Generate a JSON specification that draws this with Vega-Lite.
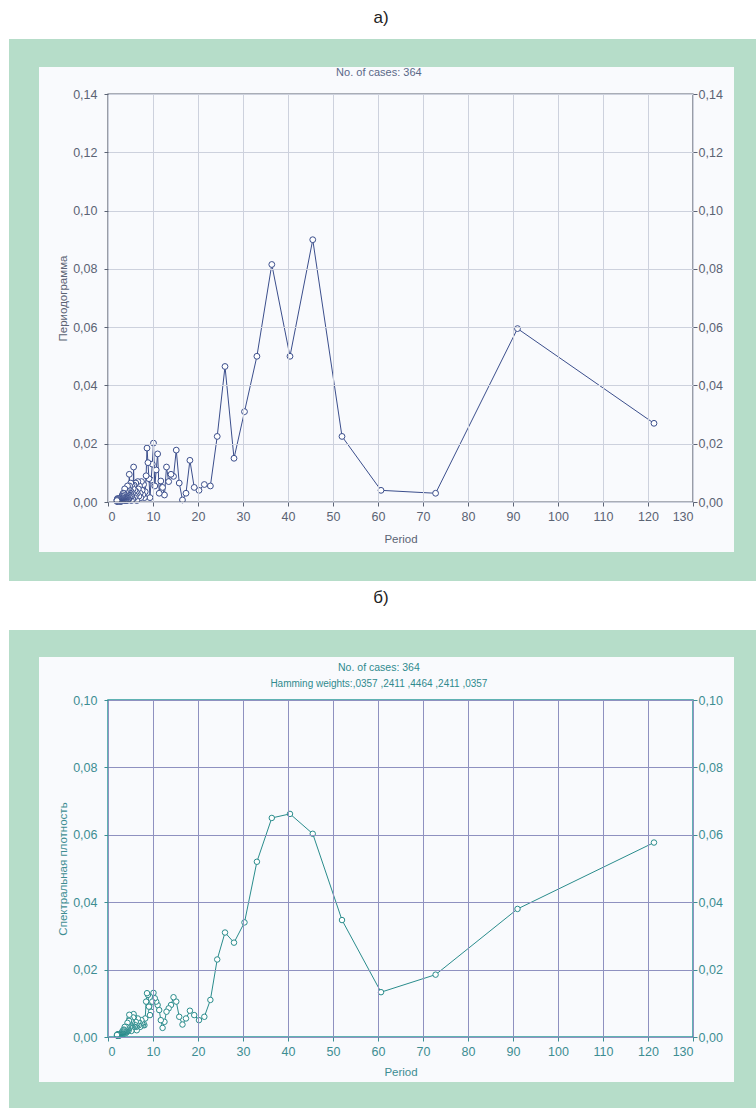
{
"$schema": "https://vega.github.io/schema/vega-lite/v6.json",
"padding": 0,
"autosize": {"type": "pad"},
"background": "white",
"bounds": "flush",
"spacing": 198,
"config": {
  "locale": {"number": {"decimal": ",", "thousands": " ", "grouping": [3], "currency": ["", ""]}},
  "font": "Liberation Sans",
  "view": {"stroke": null},
  "axis": {"zindex": 1, "domain": false, "tickSize": 4, "labelFontSize": 12.5, "titleFontSize": 11.5, "titleFontWeight": "normal", "labelFont": "Liberation Sans", "titleFont": "Liberation Sans", "gridWidth": 1}
},
"datasets": {
"pg": [
{"p":121.33,"v":0.027},{"p":91,"v":0.0595},{"p":72.8,"v":0.003},{"p":60.67,"v":0.004},{"p":52,"v":0.0225},{"p":45.5,"v":0.09},{"p":40.44,"v":0.05},{"p":36.4,"v":0.0815},{"p":33.09,"v":0.05},{"p":30.33,"v":0.031},{"p":28,"v":0.015},{"p":26,"v":0.0465},{"p":24.27,"v":0.0225},{"p":22.75,"v":0.0055},{"p":21.41,"v":0.006},{"p":20.22,"v":0.004},{"p":19.16,"v":0.005},{"p":18.2,"v":0.0143},{"p":17.33,"v":0.003},{"p":16.55,"v":0.0007},{"p":15.83,"v":0.0065},{"p":15.17,"v":0.0178},{"p":14.56,"v":0.0088},{"p":14,"v":0.0095},{"p":13.48,"v":0.007},{"p":13,"v":0.012},{"p":12.55,"v":0.0024},{"p":12.13,"v":0.005},{"p":11.74,"v":0.0072},{"p":11.38,"v":0.003},{"p":11.03,"v":0.0165},{"p":10.71,"v":0.011},{"p":10.4,"v":0.0055},{"p":10.11,"v":0.0202},{"p":9.84,"v":0.013},{"p":9.58,"v":0.0075},{"p":9.33,"v":0.0015},{"p":9.1,"v":0.008},{"p":8.88,"v":0.0135},{"p":8.67,"v":0.0185},{"p":8.47,"v":0.009},{"p":8.27,"v":0.0035},{"p":8.09,"v":0.0015},{"p":7.91,"v":0.006},{"p":7.74,"v":0.0025},{"p":7.58,"v":0.004},{"p":7.43,"v":0.007},{"p":7.28,"v":0.0015},{"p":7.14,"v":0.003},{"p":7,"v":0.0055},{"p":6.87,"v":0.002},{"p":6.74,"v":0.0045},{"p":6.62,"v":0.007},{"p":6.5,"v":0.003},{"p":6.39,"v":0.0005},{"p":6.28,"v":0.0035},{"p":6.17,"v":0.0065},{"p":6.07,"v":0.002},{"p":5.97,"v":0.004},{"p":5.87,"v":0.0015},{"p":5.78,"v":0.0058},{"p":5.69,"v":0.012},{"p":5.6,"v":0.0045},{"p":5.52,"v":0.001},{"p":5.43,"v":0.003},{"p":5.35,"v":0.006},{"p":5.28,"v":0.002},{"p":5.2,"v":0.0005},{"p":5.13,"v":0.0035},{"p":5.06,"v":0.0065},{"p":4.99,"v":0.002},{"p":4.92,"v":0.004},{"p":4.85,"v":0.0015},{"p":4.79,"v":0.0055},{"p":4.73,"v":0.0095},{"p":4.67,"v":0.0035},{"p":4.61,"v":0.001},{"p":4.55,"v":0.0025},{"p":4.49,"v":0.0045},{"p":4.44,"v":0.001},{"p":4.39,"v":0.003},{"p":4.33,"v":0.0055},{"p":4.28,"v":0.002},{"p":4.23,"v":0.0005},{"p":4.18,"v":0.003},{"p":4.14,"v":0.0015},{"p":4.09,"v":0.004},{"p":4.04,"v":0.002},{"p":4,"v":0.0005},{"p":3.96,"v":0.0025},{"p":3.91,"v":0.001},{"p":3.87,"v":0.0035},{"p":3.83,"v":0.0015},{"p":3.79,"v":0.0005},{"p":3.75,"v":0.002},{"p":3.71,"v":0.0045},{"p":3.68,"v":0.001},{"p":3.64,"v":0.0025},{"p":3.6,"v":0.0005},{"p":3.57,"v":0.0015},{"p":3.53,"v":0.003},{"p":3.5,"v":0.001},{"p":3.47,"v":0.002},{"p":3.43,"v":0.0005},{"p":3.4,"v":0.0015},{"p":3.37,"v":0.003},{"p":3.34,"v":0.001},{"p":3.31,"v":0.0005},{"p":3.28,"v":0.002},{"p":3.25,"v":0.001},{"p":3.22,"v":0.0025},{"p":3.19,"v":0.0005},{"p":3.17,"v":0.0015},{"p":3.14,"v":0.001},{"p":3.11,"v":0.002},{"p":3.08,"v":0.0005},{"p":3.06,"v":0.001},{"p":3.03,"v":0.0015},{"p":3.01,"v":0.0005},{"p":2.98,"v":0.001},{"p":2.96,"v":0.0003},{"p":2.94,"v":0.0015},{"p":2.91,"v":0.0005},{"p":2.89,"v":0.0008},{"p":2.87,"v":0.0002},{"p":2.84,"v":0.0012},{"p":2.82,"v":0.0004},{"p":2.8,"v":0.0007},{"p":2.78,"v":0.0013},{"p":2.76,"v":0.0003},{"p":2.74,"v":0.0006},{"p":2.72,"v":0.001},{"p":2.7,"v":0.0002},{"p":2.68,"v":0.0009},{"p":2.66,"v":0.0005},{"p":2.64,"v":0.0011},{"p":2.62,"v":0.0003},{"p":2.6,"v":0.0006},{"p":2.58,"v":0.0002},{"p":2.56,"v":0.0009},{"p":2.55,"v":0.0004},{"p":2.53,"v":0.0012},{"p":2.51,"v":0.0003},{"p":2.49,"v":0.0007},{"p":2.48,"v":0.0002},{"p":2.46,"v":0.0005},{"p":2.44,"v":0.001},{"p":2.43,"v":0.0003},{"p":2.41,"v":0.0006},{"p":2.39,"v":0.0002},{"p":2.38,"v":0.0008},{"p":2.36,"v":0.0004},{"p":2.35,"v":0.0011},{"p":2.33,"v":0.0002},{"p":2.32,"v":0.0005},{"p":2.3,"v":0.0007},{"p":2.29,"v":0.0003},{"p":2.28,"v":0.0009},{"p":2.26,"v":0.0002},{"p":2.25,"v":0.0006},{"p":2.23,"v":0.0004},{"p":2.22,"v":0.001},{"p":2.21,"v":0.0003},{"p":2.19,"v":0.0005},{"p":2.18,"v":0.0002},{"p":2.17,"v":0.0008},{"p":2.15,"v":0.0004},{"p":2.14,"v":0.0006},{"p":2.13,"v":0.0012},{"p":2.12,"v":0.0003},{"p":2.1,"v":0.0005},{"p":2.09,"v":0.0002},{"p":2.08,"v":0.0007},{"p":2.07,"v":0.0004},{"p":2.06,"v":0.0009},{"p":2.05,"v":0.0003},{"p":2.03,"v":0.0006},{"p":2.02,"v":0.0002},{"p":2.01,"v":0.0008},{"p":2,"v":0.0005}
],
"sd": [
{"p":121.33,"v":0.0577},{"p":91,"v":0.038},{"p":72.8,"v":0.0185},{"p":60.67,"v":0.0133},{"p":52,"v":0.0347},{"p":45.5,"v":0.0603},{"p":40.44,"v":0.0662},{"p":36.4,"v":0.065},{"p":33.09,"v":0.052},{"p":30.33,"v":0.034},{"p":28,"v":0.028},{"p":26,"v":0.031},{"p":24.27,"v":0.023},{"p":22.75,"v":0.011},{"p":21.41,"v":0.006},{"p":20.22,"v":0.005},{"p":19.16,"v":0.0065},{"p":18.2,"v":0.0078},{"p":17.33,"v":0.0055},{"p":16.55,"v":0.0037},{"p":15.83,"v":0.006},{"p":15.17,"v":0.0105},{"p":14.56,"v":0.0118},{"p":14,"v":0.0095},{"p":13.48,"v":0.0085},{"p":13,"v":0.0075},{"p":12.55,"v":0.0045},{"p":12.13,"v":0.0027},{"p":11.74,"v":0.005},{"p":11.38,"v":0.008},{"p":11.03,"v":0.0095},{"p":10.71,"v":0.0105},{"p":10.4,"v":0.0115},{"p":10.11,"v":0.0131},{"p":9.84,"v":0.0105},{"p":9.58,"v":0.0075},{"p":9.33,"v":0.0065},{"p":9.1,"v":0.009},{"p":8.88,"v":0.0125},{"p":8.67,"v":0.013},{"p":8.47,"v":0.0105},{"p":8.27,"v":0.0055},{"p":8.09,"v":0.0035},{"p":7.91,"v":0.004},{"p":7.74,"v":0.0035},{"p":7.58,"v":0.004},{"p":7.43,"v":0.005},{"p":7.28,"v":0.0035},{"p":7.14,"v":0.003},{"p":7,"v":0.0042},{"p":6.87,"v":0.0035},{"p":6.74,"v":0.0045},{"p":6.62,"v":0.0055},{"p":6.5,"v":0.0035},{"p":6.39,"v":0.002},{"p":6.28,"v":0.003},{"p":6.17,"v":0.0045},{"p":6.07,"v":0.0035},{"p":5.97,"v":0.003},{"p":5.87,"v":0.003},{"p":5.78,"v":0.006},{"p":5.69,"v":0.0068},{"p":5.6,"v":0.0058},{"p":5.52,"v":0.0028},{"p":5.43,"v":0.003},{"p":5.35,"v":0.0045},{"p":5.28,"v":0.0028},{"p":5.2,"v":0.0018},{"p":5.13,"v":0.0032},{"p":5.06,"v":0.0048},{"p":4.99,"v":0.0035},{"p":4.92,"v":0.0032},{"p":4.85,"v":0.0028},{"p":4.79,"v":0.0055},{"p":4.73,"v":0.0066},{"p":4.67,"v":0.0048},{"p":4.61,"v":0.002},{"p":4.55,"v":0.0025},{"p":4.49,"v":0.0035},{"p":4.44,"v":0.0022},{"p":4.39,"v":0.003},{"p":4.33,"v":0.0042},{"p":4.28,"v":0.0025},{"p":4.23,"v":0.0015},{"p":4.18,"v":0.0022},{"p":4.14,"v":0.002},{"p":4.09,"v":0.003},{"p":4.04,"v":0.002},{"p":4,"v":0.0012},{"p":3.96,"v":0.0018},{"p":3.91,"v":0.0017},{"p":3.87,"v":0.0025},{"p":3.83,"v":0.0017},{"p":3.79,"v":0.0012},{"p":3.75,"v":0.002},{"p":3.71,"v":0.003},{"p":3.68,"v":0.0018},{"p":3.64,"v":0.0018},{"p":3.6,"v":0.001},{"p":3.57,"v":0.0015},{"p":3.53,"v":0.0022},{"p":3.5,"v":0.0015},{"p":3.47,"v":0.0015},{"p":3.43,"v":0.001},{"p":3.4,"v":0.0014},{"p":3.37,"v":0.002},{"p":3.34,"v":0.0012},{"p":3.31,"v":0.0009},{"p":3.28,"v":0.0014},{"p":3.25,"v":0.0013},{"p":3.22,"v":0.0017},{"p":3.19,"v":0.001},{"p":3.17,"v":0.0012},{"p":3.14,"v":0.0012},{"p":3.11,"v":0.0014},{"p":3.08,"v":0.0008},{"p":3.06,"v":0.001},{"p":3.03,"v":0.0011},{"p":3.01,"v":0.0008},{"p":2.98,"v":0.0009},{"p":2.96,"v":0.0008},{"p":2.94,"v":0.0009},{"p":2.91,"v":0.0008},{"p":2.89,"v":0.0007},{"p":2.87,"v":0.0007},{"p":2.84,"v":0.0008},{"p":2.82,"v":0.0007},{"p":2.8,"v":0.0008},{"p":2.78,"v":0.0008},{"p":2.76,"v":0.0007},{"p":2.74,"v":0.0007},{"p":2.72,"v":0.0007},{"p":2.7,"v":0.0006},{"p":2.68,"v":0.0007},{"p":2.66,"v":0.0007},{"p":2.64,"v":0.0008},{"p":2.62,"v":0.0006},{"p":2.6,"v":0.0005},{"p":2.58,"v":0.0005},{"p":2.56,"v":0.0007},{"p":2.55,"v":0.0007},{"p":2.53,"v":0.0008},{"p":2.51,"v":0.0006},{"p":2.49,"v":0.0005},{"p":2.48,"v":0.0004},{"p":2.46,"v":0.0006},{"p":2.44,"v":0.0007},{"p":2.43,"v":0.0006},{"p":2.41,"v":0.0005},{"p":2.39,"v":0.0005},{"p":2.38,"v":0.0006},{"p":2.36,"v":0.0007},{"p":2.35,"v":0.0007},{"p":2.33,"v":0.0005},{"p":2.32,"v":0.0005},{"p":2.3,"v":0.0006},{"p":2.29,"v":0.0006},{"p":2.28,"v":0.0006},{"p":2.26,"v":0.0005},{"p":2.25,"v":0.0005},{"p":2.23,"v":0.0006},{"p":2.22,"v":0.0007},{"p":2.21,"v":0.0005},{"p":2.19,"v":0.0004},{"p":2.18,"v":0.0005},{"p":2.17,"v":0.0006},{"p":2.15,"v":0.0006},{"p":2.14,"v":0.0007},{"p":2.13,"v":0.0008},{"p":2.12,"v":0.0006},{"p":2.1,"v":0.0004},{"p":2.09,"v":0.0005},{"p":2.08,"v":0.0006},{"p":2.07,"v":0.0006},{"p":2.06,"v":0.0006},{"p":2.05,"v":0.0005},{"p":2.03,"v":0.0005},{"p":2.02,"v":0.0005},{"p":2.01,"v":0.0006},{"p":2,"v":0.0006}
]
},
"vconcat": [
{
  "width": 585, "height": 408,
  "resolve": {"axis": {"x": "independent", "y": "independent"}},
  "layer": [
    {"data": {"values": [{}]}, "mark": {"type": "rect", "fill": "white", "clip": false},
     "encoding": {"x": {"datum": -23.78, "type": "quantitative", "axis": null}, "x2": {"datum": 144.22}, "y": {"datum": 0.17225, "type": "quantitative", "axis": null}, "y2": {"datum": -0.02711}}},
    {"data": {"values": [{}]}, "mark": {"type": "rect", "fill": "#b6ddc9", "clip": false},
     "encoding": {"x": {"datum": -22, "type": "quantitative", "axis": null}, "x2": {"datum": 144.22}, "y": {"datum": 0.15887, "type": "quantitative", "axis": null}, "y2": {"datum": -0.02711}}},
    {"data": {"values": [{}]}, "mark": {"type": "rect", "fill": "#f9fafd", "clip": false},
     "encoding": {"x": {"datum": -15.33, "type": "quantitative", "axis": null}, "x2": {"datum": 139.11}, "y": {"datum": 0.14927, "type": "quantitative", "axis": null}, "y2": {"datum": -0.01716}}},
    {"data": {"values": [{}]}, "mark": {"type": "text", "text": "а)", "fontSize": 17, "color": "#222222", "font": "Liberation Sans", "clip": false},
     "encoding": {"x": {"datum": 60.67, "type": "quantitative", "axis": null}, "y": {"datum": 0.1661, "type": "quantitative", "axis": null}}},
    {"data": {"values": [{}]}, "mark": {"type": "text", "text": "No. of cases: 364", "fontSize": 11, "color": "#5a6888", "font": "Liberation Sans", "clip": false},
     "encoding": {"x": {"datum": 60.2, "type": "quantitative", "axis": null}, "y": {"datum": 0.1472, "type": "quantitative", "axis": null}}},
    {"data": {"name": "pg"}, "mark": {"type": "line", "color": "#3b4e8c", "strokeWidth": 1},
     "encoding": {
       "x": {"field": "p", "type": "quantitative", "scale": {"domain": [0, 130], "nice": false, "zero": false},
             "axis": {"zindex": 1, "values": [0,10,20,30,40,50,60,70,80,90,100,110,120,130], "format": "d", "title": "Period", "grid": true, "gridColor": "#cdd1dd", "labelColor": "#5b6374", "titleColor": "#5b6374", "tickColor": "#5b6374", "labelPadding": 4, "titlePadding": 11}},
       "y": {"field": "v", "type": "quantitative", "scale": {"domain": [0, 0.14], "nice": false, "zero": false},
             "axis": {"zindex": 1, "orient": "left", "values": [0,0.02,0.04,0.06,0.08,0.1,0.12,0.14], "format": ".2f", "title": "Периодограмма", "grid": true, "gridColor": "#cdd1dd", "labelColor": "#5b6374", "titleColor": "#5b6374", "tickColor": "#5b6374", "labelPadding": 7, "titlePadding": 4}}
     }},
    {"data": {"name": "pg"}, "mark": {"type": "point", "shape": "circle", "filled": false, "fill": "#ffffff", "stroke": "#3b4e8c", "strokeWidth": 1, "size": 34, "opacity": 1},
     "encoding": {
       "x": {"field": "p", "type": "quantitative", "axis": null},
       "y": {"field": "v", "type": "quantitative",
             "axis": {"zindex": 1, "orient": "right", "values": [0,0.02,0.04,0.06,0.08,0.1,0.12,0.14], "format": ".2f", "title": null, "grid": false, "labelColor": "#5b6374", "tickColor": "#5b6374", "labelPadding": 1}}
     }},
    {"data": {"values": [{}]}, "mark": {"type": "rect", "fill": "transparent", "stroke": "#5a6070", "strokeWidth": 1.2, "clip": false},
     "encoding": {"x": {"datum": 0, "type": "quantitative", "axis": null}, "x2": {"datum": 130}, "y": {"datum": 0, "type": "quantitative", "axis": null}, "y2": {"datum": 0.14}}}
  ]
},
{
  "width": 585, "height": 337,
  "resolve": {"axis": {"x": "independent", "y": "independent"}},
  "layer": [
    {"data": {"values": [{}]}, "mark": {"type": "rect", "fill": "#b6ddc9", "clip": false},
     "encoding": {"x": {"datum": -22, "type": "quantitative", "axis": null}, "x2": {"datum": 144.22}, "y": {"datum": 0.12077, "type": "quantitative", "axis": null}, "y2": {"datum": -0.02107}}},
    {"data": {"values": [{}]}, "mark": {"type": "rect", "fill": "#f9fafd", "clip": false},
     "encoding": {"x": {"datum": -15.33, "type": "quantitative", "axis": null}, "x2": {"datum": 139.11}, "y": {"datum": 0.11276, "type": "quantitative", "axis": null}, "y2": {"datum": -0.01335}}},
    {"data": {"values": [{}]}, "mark": {"type": "text", "text": "б)", "fontSize": 17, "color": "#222222", "font": "Liberation Sans", "clip": false},
     "encoding": {"x": {"datum": 60.67, "type": "quantitative", "axis": null}, "y": {"datum": 0.1303, "type": "quantitative", "axis": null}}},
    {"data": {"values": [{}]}, "mark": {"type": "text", "text": "No. of cases: 364", "fontSize": 10.5, "color": "#2f8a8e", "font": "Liberation Sans", "clip": false},
     "encoding": {"x": {"datum": 60.2, "type": "quantitative", "axis": null}, "y": {"datum": 0.1095, "type": "quantitative", "axis": null}}},
    {"data": {"values": [{}]}, "mark": {"type": "text", "text": "Hamming weights:,0357 ,2411 ,4464 ,2411 ,0357", "fontSize": 10, "color": "#2f8a8e", "font": "Liberation Sans", "clip": false},
     "encoding": {"x": {"datum": 60.2, "type": "quantitative", "axis": null}, "y": {"datum": 0.1047, "type": "quantitative", "axis": null}}},
    {"data": {"name": "sd"}, "mark": {"type": "line", "color": "#2a8c8c", "strokeWidth": 1},
     "encoding": {
       "x": {"field": "p", "type": "quantitative", "scale": {"domain": [0, 130], "nice": false, "zero": false},
             "axis": {"zindex": 1, "values": [0,10,20,30,40,50,60,70,80,90,100,110,120,130], "format": "d", "title": "Period", "grid": true, "gridColor": "#8f91c0", "labelColor": "#3d8d92", "titleColor": "#3d8d92", "tickColor": "#3d8d92", "labelPadding": 4, "titlePadding": 9}},
       "y": {"field": "v", "type": "quantitative", "scale": {"domain": [0, 0.1], "nice": false, "zero": false},
             "axis": {"zindex": 1, "orient": "left", "values": [0,0.02,0.04,0.06,0.08,0.1], "format": ".2f", "title": "Спектральная плотность", "grid": true, "gridColor": "#8f91c0", "labelColor": "#3d8d92", "titleColor": "#3d8d92", "tickColor": "#3d8d92", "labelPadding": 7, "titlePadding": 4}}
     }},
    {"data": {"name": "sd"}, "mark": {"type": "point", "shape": "circle", "filled": false, "fill": "#ffffff", "stroke": "#2a8c8c", "strokeWidth": 1, "size": 30, "opacity": 1},
     "encoding": {
       "x": {"field": "p", "type": "quantitative", "axis": null},
       "y": {"field": "v", "type": "quantitative",
             "axis": {"zindex": 1, "orient": "right", "values": [0,0.02,0.04,0.06,0.08,0.1], "format": ".2f", "title": null, "grid": false, "labelColor": "#3d8d92", "tickColor": "#3d8d92", "labelPadding": 1}}
     }},
    {"data": {"values": [{}]}, "mark": {"type": "rect", "fill": "transparent", "stroke": "#2e9a9a", "strokeWidth": 1.5, "clip": false},
     "encoding": {"x": {"datum": 0, "type": "quantitative", "axis": null}, "x2": {"datum": 130}, "y": {"datum": 0, "type": "quantitative", "axis": null}, "y2": {"datum": 0.1}}}
  ]
}
]
}
